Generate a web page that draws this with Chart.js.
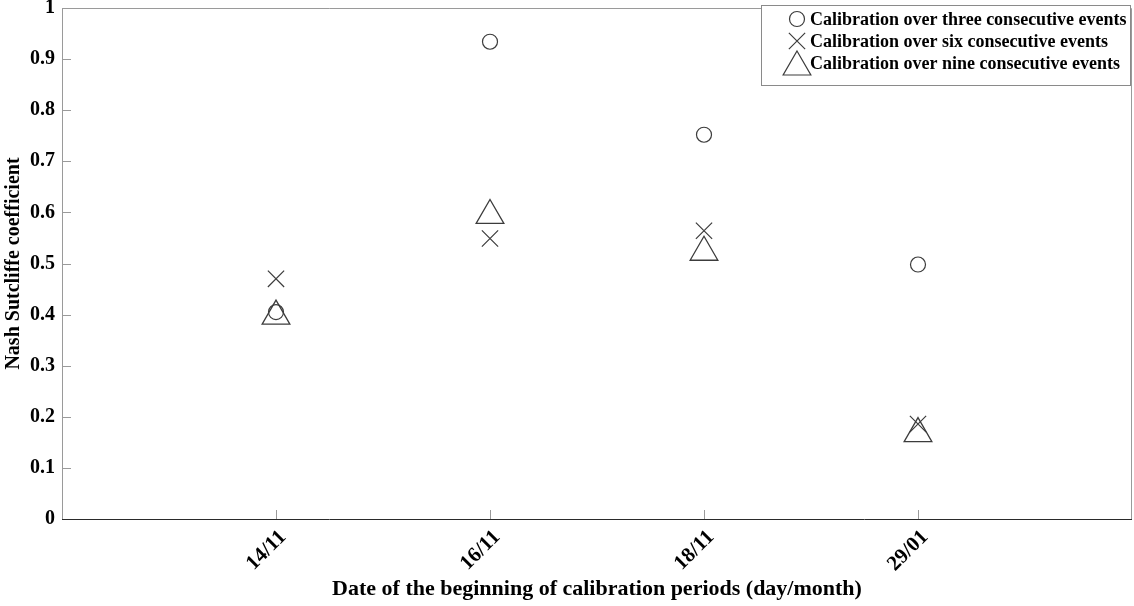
<!DOCTYPE html>
<html>
<head>
<meta charset="utf-8">
<script src="https://cdn.jsdelivr.net/npm/chart.js@4.4.1/dist/chart.umd.min.js"></script>
<style>
  html, body { margin: 0; padding: 0; background: #fff; }
  #wrap { width: 1134px; height: 606px; position: relative; }
</style>
</head>
<body>
<div id="wrap"><canvas id="nseChart"></canvas></div>
<script>
const periods = ["14/11", "16/11", "18/11", "29/01"];
const threeEvents = [0.405, 0.934, 0.752, 0.498];
const sixEvents = [0.470, 0.549, 0.564, 0.186];
const nineEvents = [0.397, 0.594, 0.522, 0.167];
const seriesNames = [
  "Calibration over three consecutive events",
  "Calibration over six consecutive events",
  "Calibration over nine consecutive events",
];

const serif = "'Liberation Serif', 'Times New Roman', serif";
const markColor = "#3c3c3c";

function toPoints(values) {
  return values.map((v, i) => ({ x: i + 1, y: v }));
}

// box around the plot, inward tick marks and the boxed legend
const frameAndLegend = {
  id: "frameAndLegend",
  afterDraw(chart) {
    const { ctx, chartArea: a, scales } = chart;
    ctx.save();
    ctx.lineWidth = 1;
    ctx.strokeStyle = "#9a9a9a";
    ctx.beginPath();
    ctx.moveTo(a.left + 0.5, a.bottom);
    ctx.lineTo(a.left + 0.5, a.top + 0.5);
    ctx.lineTo(a.right - 0.5, a.top + 0.5);
    ctx.lineTo(a.right - 0.5, a.bottom);
    ctx.stroke();

    ctx.beginPath();
    scales.x.ticks.forEach((t) => {
      if (t.value <= 0 || t.value >= 5) return;
      const px = Math.round(scales.x.getPixelForValue(t.value)) + 0.5;
      ctx.moveTo(px, a.bottom);
      ctx.lineTo(px, a.bottom - 9);
    });
    scales.y.ticks.forEach((t) => {
      const py = Math.round(scales.y.getPixelForValue(t.value)) + 0.5;
      ctx.moveTo(a.left, py);
      ctx.lineTo(a.left + 9, py);
    });
    ctx.stroke();

    // x axis line drawn darker
    ctx.strokeStyle = "#2a2a2a";
    ctx.beginPath();
    ctx.moveTo(a.left, a.bottom + 0.5);
    ctx.lineTo(a.right, a.bottom + 0.5);
    ctx.stroke();

    // legend
    const box = { left: a.right - 371, top: a.top - 3, width: 369, height: 80 };
    ctx.fillStyle = "#fff";
    ctx.fillRect(box.left, box.top, box.width, box.height);
    ctx.strokeStyle = "#8a8a8a";
    ctx.strokeRect(box.left + 0.5, box.top + 0.5, box.width, box.height);

    ctx.font = "bold 18px " + serif;
    ctx.textBaseline = "middle";
    ctx.textAlign = "left";
    chart.data.datasets.forEach((ds, i) => {
      const cy = box.top + 14 + i * 22;
      ctx.strokeStyle = markColor;
      ctx.fillStyle = "rgba(0,0,0,0)";
      ctx.lineWidth = 1.2;
      Chart.helpers.drawPoint(ctx, {
        pointStyle: ds.pointStyle,
        radius: ds.pointRadius,
        rotation: 0,
        borderWidth: 1.2,
      }, box.left + 36, cy + (ds.pointStyle === "triangle" ? 4 : 0));
      ctx.fillStyle = "#000";
      ctx.fillText(ds.label, box.left + 49, cy + 1);
    });
    ctx.restore();
  },
};

const config = {
  type: "scatter",
  data: {
    datasets: [
      {
        label: seriesNames[0],
        data: toPoints(threeEvents),
        pointStyle: "circle",
        pointRadius: 7.5,
        borderColor: markColor,
        backgroundColor: "rgba(0,0,0,0)",
        pointBorderWidth: 1.2,
      },
      {
        label: seriesNames[1],
        data: toPoints(sixEvents),
        pointStyle: "crossRot",
        pointRadius: 11.5,
        borderColor: markColor,
        backgroundColor: "rgba(0,0,0,0)",
        pointBorderWidth: 1.2,
      },
      {
        label: seriesNames[2],
        data: toPoints(nineEvents),
        pointStyle: "triangle",
        pointRadius: 16,
        borderColor: markColor,
        backgroundColor: "rgba(0,0,0,0)",
        pointBorderWidth: 1.3,
      },
    ],
  },
  options: {
    responsive: true,
    maintainAspectRatio: false,
    animation: false,
    events: [],
    layout: { autoPadding: false, padding: { top: 8, right: 2, left: 0, bottom: 0 } },
    plugins: {
      legend: { display: false },
      tooltip: { enabled: false },
    },
    scales: {
      x: {
        type: "linear",
        min: 0,
        max: 5,
        afterFit: (scale) => {
          scale.height = 87;
          scale.paddingLeft = 0;
          scale.paddingRight = 0;
        },
        afterBuildTicks: (scale) => {
          scale.ticks = [0, 1, 2, 3, 4, 5].map((v) => ({ value: v }));
        },
        grid: { display: true, drawOnChartArea: false, drawTicks: false },
        border: { display: false },
        ticks: {
          autoSkip: false,
          maxRotation: 45,
          minRotation: 45,
          padding: 6,
          labelOffset: 7,
          color: "#000",
          font: { family: serif, size: 21, weight: "bold" },
          callback: (v) => periods[v - 1] || "",
        },
        title: {
          display: true,
          text: "Date of the beginning of calibration periods (day/month)",
          color: "#000",
          font: { family: serif, size: 22, weight: "bold" },
          padding: { top: 0, bottom: 3 },
        },
      },
      y: {
        min: 0,
        max: 1,
        afterFit: (scale) => {
          scale.width = 62;
          scale.paddingTop = 0;
          scale.paddingBottom = 0;
        },
        grid: { display: true, drawOnChartArea: false, drawTicks: false },
        border: { display: false },
        ticks: {
          stepSize: 0.1,
          padding: 7,
          color: "#000",
          font: { family: serif, size: 20, weight: "bold" },
          callback: (v) => String(Number(v.toFixed(1))),
        },
        title: {
          display: true,
          text: "Nash Sutcliffe coefficient",
          color: "#000",
          font: { family: serif, size: 20, weight: "bold" },
          padding: { top: 2, bottom: 0 },
        },
      },
    },
  },
  plugins: [frameAndLegend],
};

const nseChart = new Chart(document.getElementById("nseChart"), config);
</script>
</body>
</html>
